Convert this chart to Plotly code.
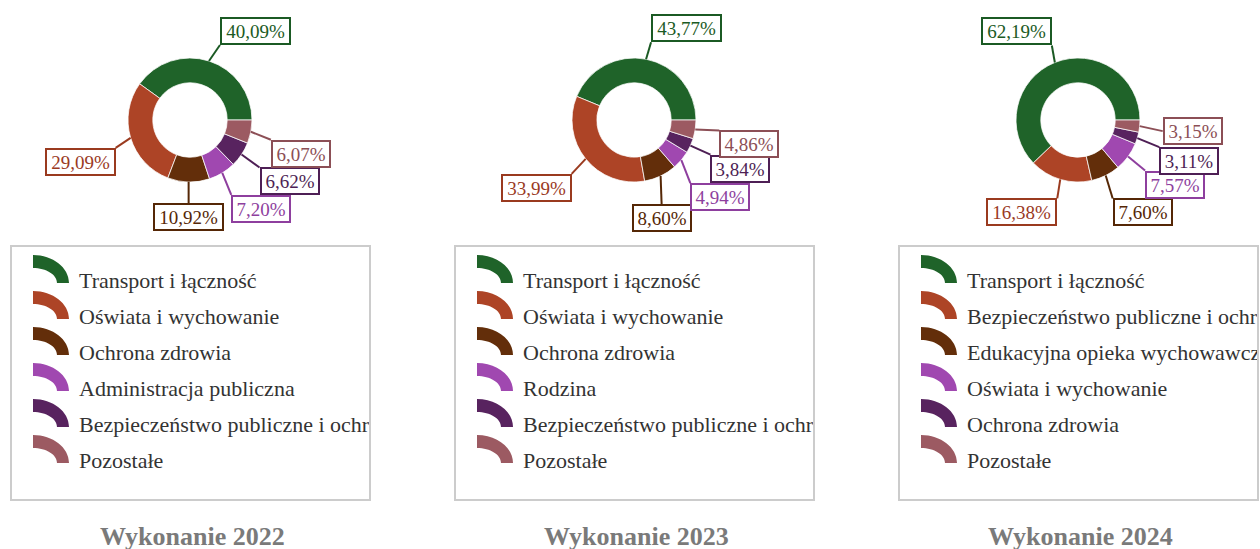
import math
import plotly.graph_objects as go

W, H = 1260, 549

# ---- data -------------------------------------------------------------
titles = ["Wykonanie 2022", "Wykonanie 2023", "Wykonanie 2024"]

labels_2022 = ["Transport i łączność", "Oświata i wychowanie", "Ochrona zdrowia",
               "Administracja publiczna",
               "Bezpieczeństwo publiczne i ochrona przeciwpożarowa", "Pozostałe"]
values_2022 = [40.09, 29.09, 10.92, 7.20, 6.62, 6.07]

labels_2023 = ["Transport i łączność", "Oświata i wychowanie", "Ochrona zdrowia",
               "Rodzina",
               "Bezpieczeństwo publiczne i ochrona przeciwpożarowa", "Pozostałe"]
values_2023 = [43.77, 33.99, 8.60, 4.94, 3.84, 4.86]

labels_2024 = ["Transport i łączność",
               "Bezpieczeństwo publiczne i ochrona przeciwpożarowa",
               "Edukacyjna opieka wychowawcza", "Oświata i wychowanie",
               "Ochrona zdrowia", "Pozostałe"]
values_2024 = [62.19, 16.38, 7.60, 7.57, 3.11, 3.15]

# ---- styling ----------------------------------------------------------
slice_colors = ["#1f6329", "#ad4426", "#632e0a", "#a048b0", "#58235f", "#9c5a62"]
label_colors = ["#1b5a24", "#9a3a1f", "#552706", "#8e3f9e", "#4e1f55", "#8c4f56"]

FONT = "Liberation Serif, Times New Roman, serif"
PANEL_W = 444
CX0, CY = 190, 120          # donut centre of the first panel (px)
R_OUT = 62                   # donut outer radius (px)
BOX_X0, BOX_X1 = 11, 370     # legend frame (first panel, px)
BOX_Y0, BOX_Y1 = 246, 500
ROW0, ROW_STEP = 283, 36

# leader-line end offsets (px from the slice edge) and box anchoring
label_layout = [
    [(11, -16, "left", "bottom"), (-15, 10, "right", "top"), (0, 21, "center", "top"),
     (9, 22, "left", "top"), (18, 13, "left", "top"), (20, 8, "left", "top")],
    [(5, -17, "left", "bottom"), (-14, 15, "right", "top"), (1, 28, "center", "top"),
     (9, 23, "left", "top"), (20, 9, "left", "top"), (24, 1, "left", "top")],
    [(-3, -17, "right", "bottom"), (-3, 19, "right", "top"), (7, 23, "left", "top"),
     (17, 14, "left", "top"), (22, 9, "left", "top"), (23, 5, "left", "middle")],
]


def px(x):
    return x / W


def py(y):
    return 1 - y / H


def fmt(v):
    return f"{v:.2f}".replace(".", ",") + "%"


def arc_icon(x, yc):
    """Quarter elliptical ring used as a legend key (pixel coords -> paper)."""
    k = 0.5523
    cx, cy = x, yc + 14
    ax_o, ay_o, ax_i, ay_i = 36, 28, 24, 15
    pts = [
        ("M", [(cx, cy - ay_o)]),
        ("C", [(cx + k * ax_o, cy - ay_o), (cx + ax_o, cy - k * ay_o), (cx + ax_o, cy)]),
        ("L", [(cx + ax_i, cy)]),
        ("C", [(cx + ax_i, cy - k * ay_i), (cx + k * ax_i, cy - ay_i), (cx, cy - ay_i)]),
    ]
    d = ""
    for cmd, coords in pts:
        d += cmd + " ".join(f"{px(a):.6f},{py(b):.6f}" for a, b in coords) + " "
    return d + "Z"


fig = go.Figure()
shapes, annotations = [], []

panels = [(labels_2022, values_2022), (labels_2023, values_2023), (labels_2024, values_2024)]

for p, (labels, values) in enumerate(panels):
    ox = p * PANEL_W
    cx = CX0 + ox
    total = sum(values)

    # donut: first slice starts at 3 o'clock and runs counter-clockwise
    # (plotly lays the first counter-clockwise slice clockwise of `rotation`)
    fig.add_trace(go.Pie(
        labels=labels, values=values, sort=False, direction="counterclockwise",
        rotation=90 - 360 * values[0] / total, hole=0.6, textinfo="none", showlegend=False,
        marker=dict(colors=slice_colors, line=dict(color="rgba(255,255,255,0.75)", width=1)),
        domain=dict(x=[px(cx - R_OUT), px(cx + R_OUT)], y=[py(CY + R_OUT), py(CY - R_OUT)]),
        hovertemplate="%{label}: %{value:.2f}%<extra></extra>",
    ))

    # percentage labels with leader lines
    cum = 0.0
    for i, v in enumerate(values):
        mid = (cum + v / 2) / total * 2 * math.pi
        cum += v
        ax_ = cx + R_OUT * math.cos(mid)
        ay_ = CY - R_OUT * math.sin(mid)
        dx, dy, xa, ya = label_layout[p][i]
        ex, ey = ax_ + dx, ay_ + dy
        shapes.append(dict(type="line", xref="paper", yref="paper",
                           x0=px(ax_), y0=py(ay_), x1=px(ex), y1=py(ey),
                           line=dict(color=label_colors[i], width=2)))
        txt = fmt(v)
        annotations.append(dict(
            xref="paper", yref="paper", x=px(ex), y=py(ey), xanchor=xa, yanchor=ya,
            text=txt, showarrow=False, font=dict(family=FONT, size=19, color=label_colors[i]),
            bgcolor="white", bordercolor=label_colors[i], borderwidth=2, borderpad=1,
            width=11 * len(txt) - 1, height=22,
        ))

    # legend frame
    bx0, bx1 = BOX_X0 + ox, BOX_X1 + ox
    shapes.append(dict(type="rect", xref="paper", yref="paper",
                       x0=px(bx0), x1=px(bx1), y0=py(BOX_Y1), y1=py(BOX_Y0),
                       line=dict(color="#cccccc", width=2), fillcolor="rgba(0,0,0,0)"))

    # legend keys
    for i in range(len(labels)):
        shapes.append(dict(type="path", xref="paper", yref="paper",
                           path=arc_icon(bx0 + 22, ROW0 + i * ROW_STEP - 14),
                           fillcolor=slice_colors[i], line=dict(width=0)))

    # legend text lives in its own clipped subplot so long names are cut at the frame
    ax_id = "" if p == 0 else str(p + 1)
    in_x0, in_x1 = bx0 + 1, min(bx1 - 1, W)
    fig.add_trace(go.Scatter(
        x=[bx0 + 68] * len(labels), y=[ROW0 - 1 + i * ROW_STEP for i in range(len(labels))],
        mode="text", text=labels, textposition="middle right", cliponaxis=True,
        textfont=dict(family=FONT, size=22, color="#333333"),
        hoverinfo="skip", showlegend=False,
        xaxis="x" + ax_id, yaxis="y" + ax_id,
    ))
    fig.layout["xaxis" + ax_id] = dict(domain=[px(in_x0), px(in_x1)], range=[in_x0, in_x1],
                                       visible=False, fixedrange=True, anchor="y" + ax_id)
    fig.layout["yaxis" + ax_id] = dict(domain=[py(BOX_Y1 - 1), py(BOX_Y0 + 1)],
                                       range=[BOX_Y1 - 1, BOX_Y0 + 1],
                                       visible=False, fixedrange=True, anchor="x" + ax_id)

    # panel title
    annotations.append(dict(
        xref="paper", yref="paper", x=px(cx + 2), y=py(536),
        xanchor="center", yanchor="middle", showarrow=False, text="<b>" + titles[p] + "</b>",
        font=dict(family=FONT, size=26, color="#7a7a7a"),
    ))

fig.update_layout(
    width=W, height=H, autosize=False,
    margin=dict(l=0, r=0, t=0, b=0),
    paper_bgcolor="white", plot_bgcolor="rgba(0,0,0,0)",
    shapes=shapes, annotations=annotations, showlegend=False,
)

fig.write_html("out.html")
